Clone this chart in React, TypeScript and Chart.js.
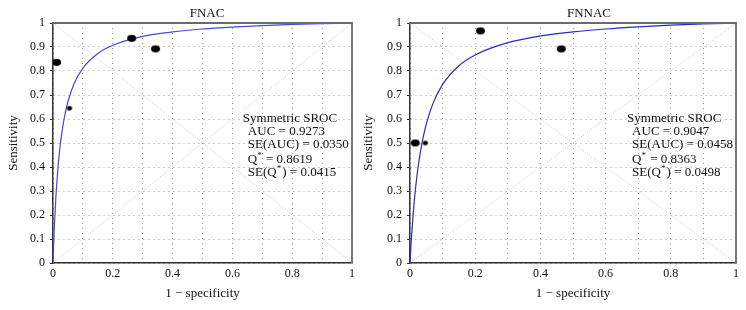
import React, { useEffect, useRef } from "react";
import { Chart, registerables } from "chart.js";
Chart.register(...registerables);

const FONT = '"Liberation Serif", "DejaVu Serif", serif';

// SROC curve points
const fnacCurveX = [0, 0.001, 0.002, 0.005, 0.01, 0.015, 0.02, 0.025, 0.03, 0.04, 0.05, 0.07, 0.1, 0.15, 0.2, 0.3, 0.4, 0.5, 0.6, 0.7, 0.8, 0.9, 1];
const fnacCurveY = [0, 0.038, 0.072, 0.164, 0.282, 0.372, 0.443, 0.5, 0.546, 0.619, 0.672, 0.746, 0.812, 0.873, 0.907, 0.944, 0.963, 0.975, 0.983, 0.989, 0.994, 0.997, 1];
const fnnacCurveX = [0, 0.001, 0.002, 0.005, 0.01, 0.015, 0.02, 0.025, 0.03, 0.04, 0.05, 0.07, 0.1, 0.15, 0.2, 0.3, 0.4, 0.5, 0.6, 0.7, 0.8, 0.9, 1];
const fnnacCurveY = [0, 0.026, 0.05, 0.116, 0.209, 0.285, 0.348, 0.401, 0.447, 0.521, 0.579, 0.663, 0.744, 0.822, 0.867, 0.918, 0.946, 0.963, 0.975, 0.984, 0.991, 0.996, 1];

// study points
const fnacStudyX = [0.012, 0.055, 0.263, 0.343];
const fnacStudyY = [0.836, 0.645, 0.936, 0.892];
const fnacStudyBig = [true, false, true, true];
const fnnacStudyX = [0.016, 0.047, 0.216, 0.464];
const fnnacStudyY = [0.5, 0.5, 0.967, 0.892];
const fnnacStudyBig = [true, false, true, true];

// statistics
const fnacStats = ["0.9273", "0.0350", "0.8619", "0.0415"];
const fnnacStats = ["0.9047", "0.0458", "0.8363", "0.0498"];

const diagX = [0, 1];
const diagUpY = [0, 1];
const diagDownY = [1, 0];

function ellipse(w: number, h: number): HTMLCanvasElement {
  const c = document.createElement("canvas");
  c.width = Math.ceil(w) + 2;
  c.height = Math.ceil(h) + 2;
  const g = c.getContext("2d")!;
  g.fillStyle = "#000";
  g.beginPath();
  g.ellipse(c.width / 2, c.height / 2, w / 2, h / 2, 0, 0, Math.PI * 2);
  g.fill();
  return c;
}

type PanelCfg = {
  title: string;
  titleX: number;
  curveX: number[];
  curveY: number[];
  studyX: number[];
  studyY: number[];
  studyBig: boolean[];
  stats: string[];
  textX: number;
  yWidth: number;
  yTitlePad: number;
  rightPad: number;
  lineColor: string;
};

function makeChart(canvas: HTMLCanvasElement, p: PanelCfg) {
  const big = ellipse(9, 6.8);
  const small = ellipse(5.2, 4.6);
  const overlay = {
    id: "overlay",
    afterDraw(chart: any) {
      const { ctx, chartArea } = chart;
      const { left, right, top, bottom } = chartArea;
      const xs = chart.scales.x;
      ctx.save();
      ctx.strokeStyle = "#6a6a6a";
      ctx.lineWidth = 1.8;
      ctx.beginPath();
      ctx.moveTo(left - 1, top);
      ctx.lineTo(right, top);
      ctx.lineTo(right, bottom);
      ctx.stroke();

      ctx.fillStyle = "#111";
      ctx.font = "13px " + FONT;
      ctx.textAlign = "center";
      ctx.textBaseline = "middle";
      ctx.fillText(p.title, p.titleX, 14);

      const x0 = xs.getPixelForValue(p.textX);
      const x1 = x0 + 5;
      ctx.textAlign = "left";
      ctx.textBaseline = "alphabetic";
      const drawSeg = (segs: { t: string; sup?: boolean }[], x: number, y: number) => {
        let cx = x;
        for (const s of segs) {
          ctx.font = (s.sup ? "9px " : "13px ") + FONT;
          ctx.fillText(s.t, cx, s.sup ? y - 5 : y);
          cx += ctx.measureText(s.t).width + (s.sup ? 1 : 0);
        }
      };
      drawSeg([{ t: "Symmetric SROC" }], x0, 122);
      drawSeg([{ t: "AUC = " + p.stats[0] }], x1, 135);
      drawSeg([{ t: "SE(AUC) = " + p.stats[1] }], x1, 148);
      drawSeg([{ t: "Q" }, { t: "*", sup: true }, { t: " = " + p.stats[2] }], x1, 163);
      drawSeg([{ t: "SE(Q" }, { t: "*", sup: true }, { t: ") = " + p.stats[3] }], x1, 176);
      ctx.restore();
    },
  };

  const pts = p.studyX.map((x, i) => ({ x, y: p.studyY[i] }));
  const curve = p.curveX.map((x, i) => ({ x, y: p.curveY[i] }));
  const up = diagX.map((x, i) => ({ x, y: diagUpY[i] }));
  const down = diagX.map((x, i) => ({ x, y: diagDownY[i] }));

  return new Chart(canvas, {
    type: "scatter",
    data: {
      datasets: [
        {
          data: pts,
          pointStyle: p.studyBig.map((b) => (b ? big : small)) as any,
          pointRadius: 4,
          order: 0,
        },
        {
          data: curve,
          showLine: true,
          borderColor: p.lineColor,
          borderWidth: 1.2,
          pointRadius: 0,
          cubicInterpolationMode: "monotone",
          order: 1,
        },
        {
          data: up,
          showLine: true,
          borderColor: "#cccccc",
          borderWidth: 1,
          borderDash: [1, 1.5],
          pointRadius: 0,
          order: 2,
        },
        {
          data: down,
          showLine: true,
          borderColor: "#cccccc",
          borderWidth: 1,
          borderDash: [1, 1.5],
          pointRadius: 0,
          order: 2,
        },
      ] as any,
    },
    options: {
      animation: false,
      responsive: false,
      events: [],
      layout: { padding: { top: 23, right: p.rightPad, left: 0, bottom: 0 } },
      plugins: { legend: { display: false }, tooltip: { enabled: false }, title: { display: false } },
      scales: {
        x: {
          type: "linear",
          min: 0,
          max: 1,
          afterFit: (s: any) => {
            s.height = 47;
          },
          border: { color: "#333", width: 1.5, dash: [1, 4] },
          grid: { color: "#999999", lineWidth: 1, drawTicks: false },
          ticks: {
            stepSize: 0.1,
            padding: 4,
            color: "#111",
            font: { family: FONT, size: 12 },
            maxRotation: 0,
            autoSkip: false,
            callback: (v: any, i: number) => (i % 2 === 0 ? String(Number(Number(v).toFixed(1))) : ""),
          },
          title: { display: true, text: "1 − specificity", color: "#111", font: { family: FONT, size: 13 }, padding: { bottom: 9 } },
        },
        y: {
          type: "linear",
          min: 0,
          max: 1,
          afterFit: (s: any) => {
            s.width = p.yWidth;
          },
          border: { color: "#333", width: 1.5, dash: [1, 4] },
          grid: { color: "#999999", lineWidth: 1, drawTicks: true, tickLength: 3, tickColor: "#333", tickWidth: 1 },
          ticks: {
            stepSize: 0.1,
            padding: 5,
            color: "#111",
            font: { family: FONT, size: 12 },
            callback: (v: any) => String(Number(Number(v).toFixed(1))),
          },
          title: { display: true, text: "Sensitivity", color: "#111", font: { family: FONT, size: 13 }, padding: { top: p.yTitlePad } },
        },
      },
    } as any,
    plugins: [overlay],
  });
}

export default function App() {
  const leftRef = useRef<HTMLCanvasElement>(null);
  const rightRef = useRef<HTMLCanvasElement>(null);
  useEffect(() => {
    const a = makeChart(leftRef.current!, {
      title: "FNAC",
      titleX: 207,
      curveX: fnacCurveX,
      curveY: fnacCurveY,
      studyX: fnacStudyX,
      studyY: fnacStudyY,
      studyBig: fnacStudyBig,
      stats: fnacStats,
      textX: 0.635,
      yWidth: 53,
      yTitlePad: 6,
      rightPad: 8,
      lineColor: "#4848d8",
    });
    const b = makeChart(rightRef.current!, {
      title: "FNNAC",
      titleX: 229,
      curveX: fnnacCurveX,
      curveY: fnnacCurveY,
      studyX: fnnacStudyX,
      studyY: fnnacStudyY,
      studyBig: fnnacStudyBig,
      stats: fnnacStats,
      textX: 0.666,
      yWidth: 50,
      yTitlePad: 1,
      rightPad: 10,
      lineColor: "#2a2ac8",
    });
    return () => {
      a.destroy();
      b.destroy();
    };
  }, []);
  return (
    <div style={{ position: "absolute", left: 0, top: 0, width: 746, height: 310, background: "#fff" }}>
      <canvas ref={leftRef} width={360} height={310} style={{ position: "absolute", left: 0, top: 0 }} />
      <canvas ref={rightRef} width={386} height={310} style={{ position: "absolute", left: 360, top: 0 }} />
    </div>
  );
}
